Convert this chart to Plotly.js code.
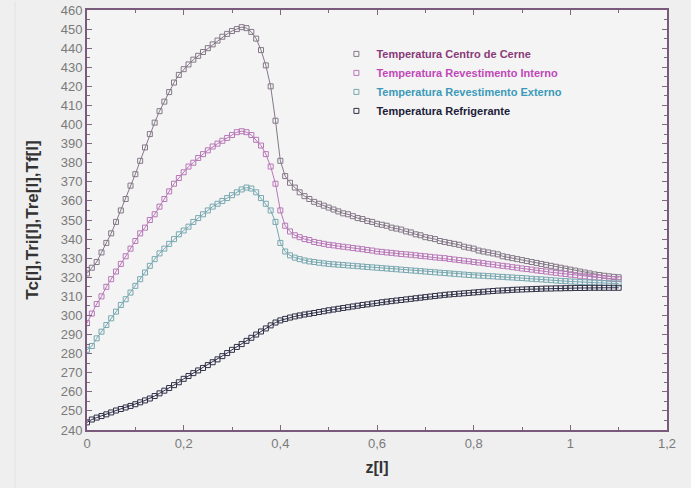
<!DOCTYPE html>
<html>
<head>
<meta charset="utf-8">
<script src="https://cdn.plot.ly/plotly-3.0.1.min.js"></script>
<style>html,body{margin:0;padding:0;background:#efefef;}#chart{width:691px;height:488px;}</style>
</head>
<body>
<div id="chart"></div>
<script>
const seriesNames = [
  "Temperatura Centro de Cerne",
  "Temperatura Revestimento Interno",
  "Temperatura Revestimento Externo",
  "Temperatura Refrigerante"
];
const z = [0,0.01,0.02,0.03,0.04,0.05,0.06,0.07,0.08,0.09,0.1,0.11,0.12,0.13,0.14,0.15,0.16,0.17,0.18,0.19,
0.2,0.21,0.22,0.23,0.24,0.25,0.26,0.27,0.28,0.29,0.3,0.31,0.32,0.33,0.34,0.35,0.36,0.37,0.38,0.39,
0.4,0.41,0.42,0.43,0.44,0.45,0.46,0.47,0.48,0.49,0.5,0.51,0.52,0.53,0.54,0.55,0.56,0.57,0.58,0.59,
0.6,0.61,0.62,0.63,0.64,0.65,0.66,0.67,0.68,0.69,0.7,0.71,0.72,0.73,0.74,0.75,0.76,0.77,0.78,0.79,
0.8,0.81,0.82,0.83,0.84,0.85,0.86,0.87,0.88,0.89,0.9,0.91,0.92,0.93,0.94,0.95,0.96,0.97,0.98,0.99,
1,1.01,1.02,1.03,1.04,1.05,1.06,1.07,1.08,1.09,1.1];
const tCentro = [322,325,328,333,338,343,349,355,361,368,374,381,388,395,401,407,412,417,422,426,
429,431.5,434,436,438,440,442,444,446,447.5,449,450,451,450.5,448.5,445,439,431,420,402,
381,373,369.5,367,364.5,362.5,361,359.5,358.5,357.5,356.5,355.5,354.5,353.5,353,352,351,350.5,349.5,349,
348,347.5,347,346,345.5,345,344,343.5,342.5,342,341,340.5,340,339,338.5,338,337.5,337,336,335.5,
335,334,333.5,333,332.5,332,331,330.5,330,329.5,329,328.5,328,327.5,327,326.5,326,325.5,325,324.5,
324,323.5,323,322.5,322,321.5,321.2,320.8,320.5,320.2,320];
const tRevInt = [296,301,306,310,315,319,323,327,331,335,339,343,346,350,353,357,361,365,369,372,
375,378,380,382.5,384.5,386.5,388.5,390,391.5,393,394.5,396,396.5,396,394.5,392,389,384.5,378,369,
355,347,344,342,341,340,339.5,338.5,338,337.5,337,336.7,336.3,336,335.7,335.3,335,334.7,334.3,334,
333.5,333.3,333,332.8,332.5,332.2,332,331.8,331.5,331.2,331,330.7,330.4,330.2,330,329.6,329.3,329,328.7,328.4,
328,327.7,327.4,327,326.7,326.3,326,325.7,325.3,325,324.6,324.3,324,323.6,323.3,323,322.6,322.3,322,321.7,
321.4,321.1,320.8,320.5,320.2,320,319.8,319.5,319.3,319.1,319];
const tRevExt = [282,284,288,291.5,295,298.5,302,305.5,308.5,312,315.5,319,322.5,326,329.5,332.5,335,337.5,340,342.5,
344.5,346.5,349,351,353,355,357,358.5,360,361.5,363,364.5,366,367,366.5,364.5,361.5,358.5,355,349,
338,333.5,331.5,330.3,329.5,328.8,328.3,328,327.6,327.3,327,326.8,326.6,326.4,326.2,326,325.8,325.6,325.4,325.2,
325,324.8,324.6,324.4,324.2,324,323.8,323.6,323.4,323.2,323,322.8,322.6,322.4,322.2,322,321.8,321.6,321.4,321.2,
321,320.9,320.8,320.6,320.5,320.3,320.2,320,319.9,319.7,319.6,319.4,319.2,319,318.9,318.7,318.5,318.3,318.1,318,
317.8,317.7,317.5,317.4,317.3,317.2,317.1,317,316.9,316.8,316.7];
const tRefrig = [244,245.5,246.5,247.3,248.2,249.2,250.2,251,251.8,252.6,253.5,254.5,255.5,256.5,257.8,259.2,260.6,262,263.5,265,
266.8,268.3,269.8,271.2,272.5,274,275.5,277,278.7,280.3,282,283.5,285,286.7,288.3,290,291.6,293.2,294.8,296.3,
297.4,298.2,298.9,299.5,300,300.5,300.9,301.3,301.8,302.2,302.7,303.1,303.5,303.9,304.3,304.7,305.1,305.5,305.8,306.2,
306.5,306.9,307.2,307.5,307.8,308.1,308.4,308.7,309,309.3,309.6,309.9,310.2,310.5,310.8,311,311.2,311.4,311.6,311.8,
312,312.2,312.4,312.6,312.8,313,313.1,313.2,313.4,313.5,313.6,313.7,313.8,313.9,314,314.1,314.1,314.2,314.2,314.3,
314.3,314.4,314.4,314.4,314.5,314.5,314.5,314.5,314.5,314.5,314.5];
const yTickVals = [240,250,260,270,280,290,300,310,320,330,340,350,360,370,380,390,400,410,420,430,440,450,460];
const xTickVals = [0,0.2,0.4,0.6,0.8,1,1.2];

const lineColors = ["#857888", "#b878b8", "#78a8b0", "#303048"];
const textColors = ["#8a3a78", "#c048b8", "#3a9ab8", "#202038"];
const values = [tCentro, tRevInt, tRevExt, tRefrig];

const traces = values.map((v, i) => ({
  type: "scatter",
  mode: "lines+markers",
  x: z,
  y: v,
  showlegend: false,
  line: {color: lineColors[i], width: 1},
  marker: {symbol: "square-open", size: 5, color: lineColors[i], line: {width: 1, color: lineColors[i]}}
}));
const legendTraces = values.map((v, i) => ({
  type: "scatter",
  mode: "markers",
  x: [null],
  y: [null],
  name: '<span style="color:' + textColors[i] + '">' + seriesNames[i] + '</span>',
  marker: {symbol: "square-open", size: 5, color: lineColors[i], line: {width: 1, color: lineColors[i]}}
}));

const layout = {
  width: 691, height: 488,
  margin: {l: 87, r: 24, t: 10, b: 58},
  paper_bgcolor: "#efefef",
  plot_bgcolor: "#f4f4f4",
  separators: ",.",
  font: {family: "Liberation Sans, Arial, sans-serif", size: 12, color: "#7a7a7a"},
  showlegend: true,
  legend: {
    x: 0.43, y: 0.93, xanchor: "left", yanchor: "top",
    bgcolor: "rgba(0,0,0,0)",
    font: {family: "Liberation Sans, Arial, sans-serif", size: 11, weight: "bold"},
    itemwidth: 30, tracegroupgap: 0
  },
  shapes: [{type: "line", xref: "paper", yref: "paper", x0: -0.124, x1: -0.124, y0: -0.14, y1: 1.02,
            line: {color: "#e2e2e2", width: 1}}],
  xaxis: {
    range: [0, 1.2],
    tickvals: xTickVals,
    ticks: "inside", ticklen: 5, tickcolor: "#806880",
    minor: {dtick: 0.1, ticks: "inside", ticklen: 3, tickcolor: "#806880"},
    showgrid: false, zeroline: false,
    showline: true, linecolor: "#7a5a7a", linewidth: 2, mirror: "ticks",
    tickfont: {size: 13, color: "#7a7a7a"},
    title: {text: "z[I]", font: {size: 16, color: "#333", weight: "bold"}, standoff: 12}
  },
  yaxis: {
    range: [240, 460],
    tickvals: yTickVals,
    ticks: "inside", ticklen: 5, tickcolor: "#806880",
    minor: {dtick: 5, ticks: "inside", ticklen: 3, tickcolor: "#806880"},
    showgrid: false, zeroline: false,
    showline: true, linecolor: "#7a5a7a", linewidth: 2, mirror: "ticks",
    tickfont: {size: 13, color: "#7a7a7a"},
    title: {text: "Tc[I],Tri[I],Tre[I],Tf[I]", font: {size: 17, color: "#333", weight: "bold"}, standoff: 18}
  }
};

Plotly.newPlot("chart", traces.concat(legendTraces), layout, {staticPlot: true, displayModeBar: false});
</script>
</body>
</html>
